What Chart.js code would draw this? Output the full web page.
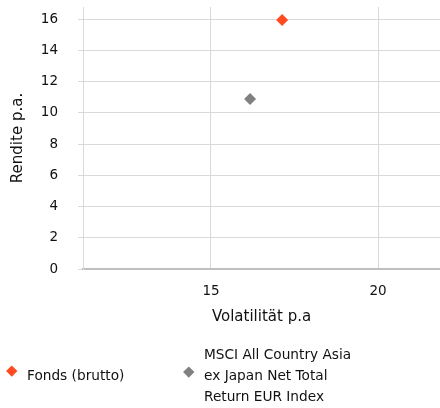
<!DOCTYPE html>
<html>
<head>
<meta charset="utf-8">
<script src="https://cdn.jsdelivr.net/npm/chart.js@4/dist/chart.umd.min.js"></script>
<style>
  html, body { margin: 0; padding: 0; background: #fff; }
  #wrap { position: relative; width: 440px; height: 408px; overflow: hidden; }
  #legend { font-family: 'DejaVu Sans', sans-serif; font-size: 13.7px; color: #111; }
  .mark { position: absolute; width: 7.5px; height: 7.5px; transform: rotate(45deg); }
  .txt { position: absolute; line-height: 21px; white-space: normal; }
</style>
</head>
<body>
<div id="wrap">
  <canvas id="chartRisk" width="440" height="408"></canvas>
  <div id="legend"></div>
</div>
<script>
    // Daten
    const serien = ['Fonds (brutto)', 'MSCI All Country Asia ex Japan Net Total Return EUR Index'];
    const volatilitaet = [17.13, 16.17];
    const rendite = [15.94, 10.88];
    const farben = ['#FF4B1F', '#808080'];
    const xTicks = [15, 20];
    const yTicks = [0, 2, 4, 6, 8, 10, 12, 14, 16];

    const schrift = 'DejaVu Sans';
    const textFarbe = '#111';

    const datasets = serien.map(function(name, i) {
        return {
            label: name,
            data: [{ x: volatilitaet[i], y: rendite[i] }],
            backgroundColor: farben[i],
            borderColor: farben[i],
            borderWidth: 0,
            pointStyle: 'rectRot',
            pointRadius: 6,
            pointHoverRadius: 6
        };
    });

    const config = {
        type: 'scatter',
        data: { datasets: datasets },
        options: {
            responsive: false,
            animation: false,
            layout: {
                autoPadding: false,
                padding: { top: 7, bottom: 82, left: 4, right: 0 }
            },
            scales: {
                x: {
                    type: 'linear',
                    min: 11.168,
                    max: 21.856,
                    afterBuildTicks: function(scale) {
                        scale.ticks = xTicks.map(function(v) { return { value: v }; });
                    },
                    afterFit: function(scale) {
                        scale.paddingLeft = 0;
                        scale.paddingRight = 0;
                        scale.height = 57;
                    },
                    grid: { color: '#d9d9d9', drawTicks: false },
                    border: { color: '#bfbfbf', width: 2 },
                    ticks: {
                        color: textFarbe,
                        padding: 14,
                        font: { family: schrift, size: 13.5 }
                    },
                    title: {
                        display: true,
                        text: 'Volatilität p.a',
                        color: textFarbe,
                        font: { family: schrift, size: 15 },
                        padding: { top: 4, bottom: 0 }
                    }
                },
                y: {
                    type: 'linear',
                    min: 0,
                    max: 16.77,
                    afterBuildTicks: function(scale) {
                        scale.ticks = yTicks.map(function(v) { return { value: v }; });
                    },
                    afterFit: function(scale) {
                        scale.paddingTop = 0;
                        scale.paddingBottom = 0;
                        scale.width = 79;
                    },
                    grid: { color: '#d9d9d9', tickLength: 5 },
                    border: { color: '#d9d9d9' },
                    ticks: {
                        color: textFarbe,
                        padding: 20,
                        font: { family: schrift, size: 13.5 }
                    },
                    title: {
                        display: true,
                        text: 'Rendite p.a.',
                        color: textFarbe,
                        font: { family: schrift, size: 15 },
                        padding: { top: 5.5, bottom: 4 }
                    }
                }
            },
            plugins: {
                legend: { display: false },
                tooltip: { enabled: false }
            }
        }
    };

    const ctxRisk = document.getElementById('chartRisk').getContext('2d');
    const grafik = new Chart(ctxRisk, config);

    // Legende als HTML
    const markPos = [[12, 371], [189, 372]];
    const textPos = [[27, 365, 160], [204, 344, 158]];
    const legendEl = document.getElementById('legend');
    serien.forEach(function(name, i) {
        const m = document.createElement('span');
        m.className = 'mark';
        m.style.background = farben[i];
        m.style.left = (markPos[i][0] - 3.75) + 'px';
        m.style.top = (markPos[i][1] - 3.75) + 'px';
        const t = document.createElement('span');
        t.className = 'txt';
        t.textContent = name;
        t.style.left = textPos[i][0] + 'px';
        t.style.top = textPos[i][1] + 'px';
        t.style.width = textPos[i][2] + 'px';
        legendEl.appendChild(m);
        legendEl.appendChild(t);
    });
</script>
</body>
</html>
